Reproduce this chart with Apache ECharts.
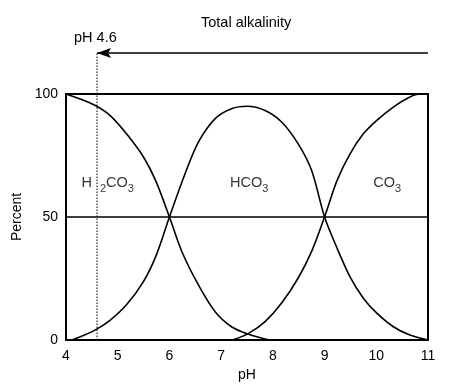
<!DOCTYPE html>
<html>
<head>
<meta charset="utf-8">
<script src="https://cdn.jsdelivr.net/npm/echarts@6/dist/echarts.min.js"></script>
<style>html,body{margin:0;padding:0;background:#fff;}#c{width:450px;height:392px;}</style>
</head>
<body>
<div id="c"></div>
<script>
// ---- data ----
const xTicks = [4, 5, 6, 7, 8, 9, 10, 11];
const yTicks = [0, 50, 100];

const h2co3PH  = [4.0, 4.3, 4.56, 4.85, 5.17, 5.5, 5.75, 6.0, 6.24, 6.56, 6.88, 7.2, 7.53, 7.85, 7.95];
const h2co3Val = [100, 97.8, 95.4, 91.3, 83.8, 74.3, 64, 50, 36, 22.4, 11.6, 5.4, 2.3, 0.4, 0];

const hco3PH  = [4.12, 4.3, 4.56, 4.85, 5.17, 5.5, 5.75, 6.0, 6.3, 6.56, 6.88, 7.2, 7.5, 7.85, 8.17, 8.49, 8.75, 9.0, 9.24, 9.49, 9.75, 10.01, 10.33, 10.65, 11.0];
const hco3Val = [0, 1.5, 4, 8, 14.3, 23.8, 34.7, 50, 67.5, 80.4, 89.9, 94, 95, 93.3, 88.6, 79.7, 68.9, 50, 37.4, 25.8, 17, 10.9, 5.4, 2, 0];

const co3PH  = [7.22, 7.53, 7.85, 8.17, 8.49, 8.75, 9.0, 9.24, 9.49, 9.75, 10.01, 10.33, 10.65, 10.85, 11.0];
const co3Val = [0, 2.7, 7.5, 15, 25.2, 36, 50, 64.8, 75.6, 83.8, 89.3, 94.7, 98.8, 100, 100];

const alkalinityPH = 4.6;     // end point marked by dotted line
const arrowLevel = 116.7;     // level of the "Total alkalinity" arrow (above 100 %)

const speciesLabels = [
  { name: 'H2CO3', ph: 4.3,  pct: 63.5, text: '{n|H}{g|}{s|2}{n|CO}{s|3}' },
  { name: 'HCO3',  ph: 7.17, pct: 63.5, text: '{n|HCO}{s|3}' },
  { name: 'CO3',   ph: 9.94, pct: 63.5, text: '{n|CO}{s|3}' }
];

// ---- chart ----
const FONT = 'Liberation Sans, Arial, Helvetica, sans-serif';
const pairs = (xs, ys) => xs.map((x, i) => [x, ys[i]]);
const curveStyle = { color: '#000', width: 1.6 };

const chart = echarts.init(document.getElementById('c'), null, { renderer: 'canvas' });
chart.setOption({
  animation: false,
  backgroundColor: '#fff',
  textStyle: { fontFamily: FONT, color: '#000' },
  grid: { left: 66, right: 22, top: 94, bottom: 52, show: true, borderColor: '#000', borderWidth: 2, backgroundColor: 'transparent' },
  xAxis: {
    type: 'value', min: xTicks[0], max: xTicks[xTicks.length - 1], interval: 1,
    name: 'pH', nameLocation: 'middle', nameGap: 26,
    nameTextStyle: { fontSize: 14, color: '#000', fontFamily: FONT },
    axisLine: { show: false }, axisTick: { show: false }, splitLine: { show: false },
    axisLabel: { fontSize: 14, color: '#000', margin: 9, fontFamily: FONT }
  },
  yAxis: {
    type: 'value', min: yTicks[0], max: yTicks[yTicks.length - 1], interval: 50,
    name: 'Percent', nameLocation: 'middle', nameGap: 38, nameRotate: 90,
    nameTextStyle: { fontSize: 14, color: '#000', fontFamily: FONT },
    axisLine: { show: false }, axisTick: { show: false },
    splitLine: { show: true, lineStyle: { color: '#000', width: 1.5 } },
    axisLabel: { fontSize: 14, color: '#000', margin: 8, fontFamily: FONT }
  },
  graphic: [
    { type: 'text', left: 201, top: 15, style: { text: 'Total alkalinity', font: '14.5px ' + FONT, fill: '#000' } },
    { type: 'text', left: 74, top: 30, style: { text: 'pH 4.6', font: '14.5px ' + FONT, fill: '#000' } }
  ],
  series: [
    { type: 'line', name: 'H2CO3', data: pairs(h2co3PH, h2co3Val), smooth: 0.3, showSymbol: false, lineStyle: curveStyle, z: 3 },
    { type: 'line', name: 'HCO3', data: pairs(hco3PH, hco3Val), smooth: 0.3, showSymbol: false, lineStyle: curveStyle, z: 3 },
    { type: 'line', name: 'CO3', data: pairs(co3PH, co3Val), smooth: 0.3, showSymbol: false, lineStyle: curveStyle, z: 3 },
    { type: 'line', name: 'pH 4.6 line', clip: false, showSymbol: false, symbol: 'none',
      data: [[alkalinityPH, 0], [alkalinityPH, arrowLevel]],
      lineStyle: { color: '#222', width: 1.2, type: [1.5, 1.5] }, z: 2 },
    { type: 'line', name: 'alkalinity arrow', clip: false, showSymbol: true,
      data: [
        { value: [xTicks[xTicks.length - 1], arrowLevel], symbol: 'none' },
        { value: [alkalinityPH, arrowLevel], symbol: 'path://M0,5 L14,0 L11,5 L14,10 Z', symbolSize: [14, 10], symbolOffset: [7, 0] }
      ],
      itemStyle: { color: '#000' },
      lineStyle: { color: '#000', width: 1.5 }, z: 4 },
    { type: 'scatter', name: 'labels', symbolSize: 0, silent: true,
      data: speciesLabels.map(d => ({ value: [d.ph, d.pct], label: { formatter: d.text } })),
      label: {
        show: true, position: 'inside', align: 'left', verticalAlign: 'middle',
        rich: {
          n: { fontSize: 14.5, fontFamily: FONT, color: '#000', lineHeight: 16, verticalAlign: 'top' },
          g: { width: 8, lineHeight: 16, verticalAlign: 'top' },
          s: { fontSize: 11, fontFamily: FONT, color: '#000', lineHeight: 12, padding: [8, 0, 0, 0], verticalAlign: 'top' }
        }
      }, z: 5 }
  ]
});
</script>
</body>
</html>
